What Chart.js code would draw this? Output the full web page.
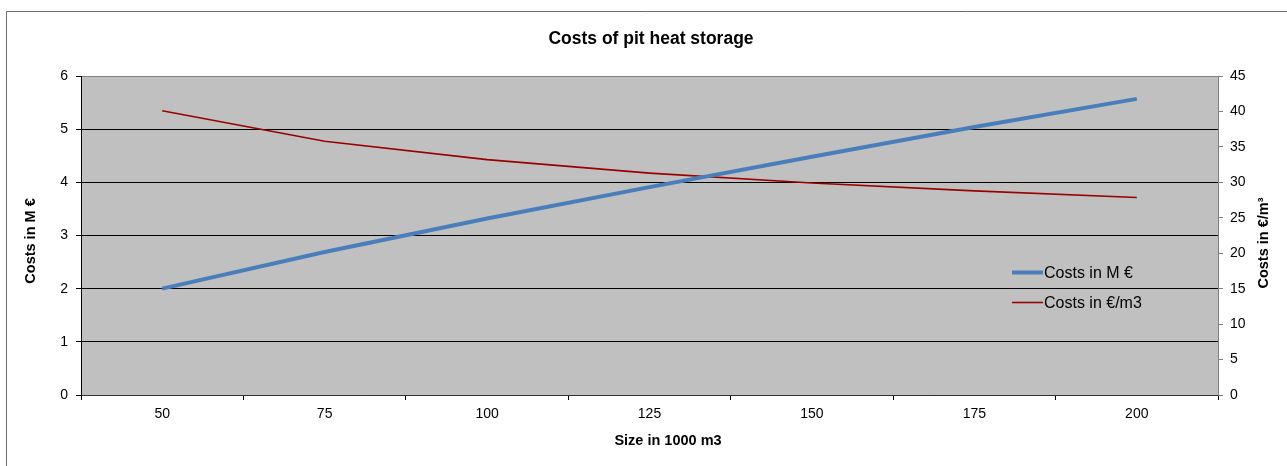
<!DOCTYPE html>
<html>
<head>
<meta charset="utf-8">
<title>Costs of pit heat storage</title>
<script src="https://cdn.jsdelivr.net/npm/chart.js@4.4.1/dist/chart.umd.min.js"></script>
<style>
  html, body { margin: 0; padding: 0; background: #fff; }
  #wrap { width: 1287px; height: 466px; }
</style>
</head>
<body>
<div id="wrap"><canvas id="pitChart" width="1287" height="466"></canvas></div>
<script>
const sizes = ['50', '75', '100', '125', '150', '175', '200'];
const costsMillion = [2.0, 2.69, 3.32, 3.91, 4.48, 5.04, 5.57];
const costsPerM3 = [40.1, 35.8, 33.2, 31.3, 29.9, 28.8, 27.85];

const FONT = '"Liberation Sans", Arial, Helvetica, sans-serif';

// white frame + grey plot background
const backdrop = {
    id: 'backdrop',
    beforeDraw(chart) {
        const { ctx, chartArea: a } = chart;
        ctx.save();
        ctx.fillStyle = '#fff';
        ctx.fillRect(0, 0, chart.width, chart.height);
        ctx.strokeStyle = '#6e6e6e';
        ctx.lineWidth = 1;
        ctx.beginPath();
        ctx.moveTo(6.5, chart.height + 5);
        ctx.lineTo(6.5, 11.5);
        ctx.lineTo(chart.width + 5, 11.5);
        ctx.stroke();
        ctx.fillStyle = '#c0c0c0';
        ctx.fillRect(a.left, a.top, a.right - a.left, a.bottom - a.top);
        ctx.restore();
    }
};

// titles drawn by hand so the right one reads bottom-to-top like the original
const titles = {
    id: 'titles',
    afterDraw(chart) {
        const { ctx } = chart;
        ctx.save();
        ctx.fillStyle = '#000';
        ctx.textAlign = 'center';
        ctx.textBaseline = 'middle';

        ctx.font = 'bold 17.5px ' + FONT;
        ctx.fillText('Costs of pit heat storage', 651, 39);

        ctx.font = 'bold 14.5px ' + FONT;
        ctx.fillText('Size in 1000 m3', 668, 441);

        ctx.save();
        ctx.translate(31, 241);
        ctx.rotate(-Math.PI / 2);
        ctx.fillText('Costs in M €', 0, 0);
        ctx.restore();

        ctx.save();
        ctx.translate(1264, 243);
        ctx.rotate(-Math.PI / 2);
        ctx.fillText('Costs in €/m³', 0, 0);
        ctx.restore();

        ctx.restore();
    }
};

// legend sits inside the plot area
const insideLegend = {
    id: 'insideLegend',
    afterDatasetsDraw(chart) {
        const { ctx } = chart;
        const rows = [272.5, 302.5];
        ctx.save();
        ctx.font = '16px ' + FONT;
        ctx.textAlign = 'left';
        ctx.textBaseline = 'middle';
        chart.data.datasets.forEach((ds, i) => {
            const y = rows[i];
            ctx.strokeStyle = ds.borderColor;
            ctx.lineWidth = ds.borderWidth;
            ctx.beginPath();
            ctx.moveTo(1012, y);
            ctx.lineTo(1043, y);
            ctx.stroke();
            ctx.fillStyle = '#000';
            ctx.fillText(ds.label, 1044, y + 1);
        });
        ctx.restore();
    }
};

const ctx = document.getElementById('pitChart').getContext('2d');

new Chart(ctx, {
    type: 'line',
    data: {
        labels: sizes,
        datasets: [
            {
                label: 'Costs in M €',
                data: costsMillion,
                yAxisID: 'y',
                borderColor: '#4a7ebb',
                borderWidth: 4,
                pointRadius: 0,
                tension: 0,
                fill: false
            },
            {
                label: 'Costs in €/m3',
                data: costsPerM3,
                yAxisID: 'y2',
                borderColor: '#990000',
                borderWidth: 1.6,
                pointRadius: 0,
                tension: 0,
                fill: false
            }
        ]
    },
    options: {
        responsive: false,
        animation: false,
        layout: { padding: { top: 76, left: 0, right: 0, bottom: 0 } },
        plugins: {
            legend: { display: false },
            title: { display: false },
            tooltip: { enabled: false }
        },
        scales: {
            x: {
                type: 'category',
                offset: true,
                afterFit: s => { s.height = 71; },
                grid: { offset: true, drawOnChartArea: false, drawTicks: true, tickLength: 5, color: '#000' },
                border: { color: '#333', width: 1 },
                ticks: { color: '#000', padding: 6, font: { family: FONT, size: 14 } }
            },
            y: {
                position: 'left',
                min: 0,
                max: 6,
                afterFit: s => { s.width = 81; },
                grid: {
                    color: c => (c.tick && c.tick.value === 6) ? '#808080' : '#000',
                    tickColor: '#000',
                    tickLength: 5,
                    lineWidth: 1
                },
                border: { color: '#000', width: 1 },
                ticks: { stepSize: 1, color: '#000', padding: 8, font: { family: FONT, size: 14 } }
            },
            y2: {
                position: 'right',
                min: 0,
                max: 45,
                afterFit: s => { s.width = 69; },
                grid: { drawOnChartArea: false, tickColor: '#808080', tickLength: 5 },
                border: { color: '#808080', width: 1 },
                ticks: { stepSize: 5, color: '#000', padding: 7, font: { family: FONT, size: 14 } }
            }
        }
    },
    plugins: [backdrop, insideLegend, titles]
});
</script>
</body>
</html>
